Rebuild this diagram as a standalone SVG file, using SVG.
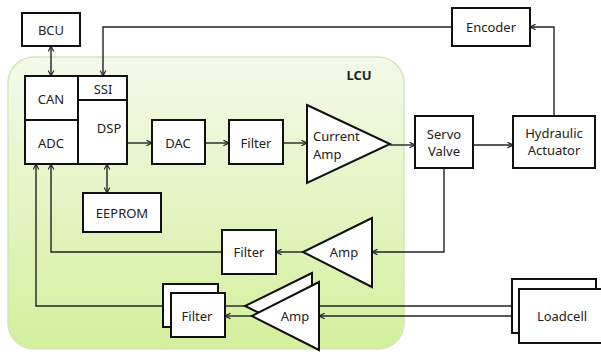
<svg xmlns="http://www.w3.org/2000/svg" width="601" height="355" viewBox="0 0 601 355">
<defs>
<linearGradient id="lcuG" x1="0" y1="0" x2="0" y2="1">
<stop offset="0" stop-color="#f4f9ea"/>
<stop offset="1" stop-color="#d3f09c"/>
</linearGradient>
<marker id="ah" viewBox="0 0 10 10" refX="9" refY="5" markerWidth="7" markerHeight="7" markerUnits="userSpaceOnUse" orient="auto-start-reverse">
<path d="M1,1 L9,5 L1,9" fill="none" stroke="#222" stroke-width="1.6"/>
</marker>
<style>
.box{fill:#fff;stroke:#111;stroke-width:2}
.tri{fill:#fff;stroke:#111;stroke-width:2;stroke-linejoin:miter}
.ln{fill:none;stroke:#222;stroke-width:1.4}
.arr{fill:none;stroke:#222;stroke-width:1.4;marker-end:url(#ah)}
.dbl{fill:none;stroke:#222;stroke-width:1.4;marker-end:url(#ah);marker-start:url(#ah)}
text{font-family:"Noto Sans","Open Sans","Liberation Sans",sans-serif;font-size:13px;fill:#222;text-anchor:middle;dominant-baseline:central}
</style>
</defs>
<rect width="601" height="355" fill="#fff"/>
<g id="lcu">
<rect x="8" y="57" width="396" height="292" rx="26" fill="url(#lcuG)" stroke="#d5e6b8" stroke-width="1.5"/>
<text x="359" y="75" style="font-weight:bold">LCU</text>
</g>
<g id="connectors">
<path class="dbl" d="M51,46 L51,76"/>
<path class="arr" d="M452,27 L103,27 L103,76"/>
<path class="arr" d="M554,116 L554,27 L530,27"/>
<path class="arr" d="M127,143 L152,143"/>
<path class="arr" d="M205,143 L229,143"/>
<path class="arr" d="M283,143 L307,143"/>
<path class="arr" d="M390,145 L415,145"/>
<path class="arr" d="M473,145 L513,145"/>
<path class="dbl" d="M107,164 L107,193"/>
<path class="arr" d="M444,168 L444,252 L372,252"/>
<path class="arr" d="M303,252 L276,252"/>
<path class="arr" d="M222,252 L51,252 L51,164"/>
<path class="arr" d="M163,306 L36,306 L36,164"/>
<path class="ln" d="M245,306 L218,306"/>
<path class="arr" d="M252,316 L225,316"/>
<path class="ln" d="M512,306 L312,306"/>
<path class="arr" d="M519,316 L319,316"/>
</g>
<g id="bcu"><rect class="box" x="22" y="13" width="58" height="33"/><text x="51" y="30">BCU</text></g>
<g id="can"><rect class="box" x="25" y="76" width="53" height="44"/><text x="51" y="99">CAN</text></g>
<g id="adc"><rect class="box" x="25" y="120" width="53" height="44"/><text x="51" y="143">ADC</text></g>
<g id="ssi"><rect class="box" x="78" y="76" width="49" height="24"/><text x="103" y="89">SSI</text></g>
<g id="dsp"><rect class="box" x="78" y="100" width="49" height="64"/><text x="109" y="128">DSP</text></g>
<g id="dac"><rect class="box" x="152" y="120" width="53" height="44"/><text x="178" y="143">DAC</text></g>
<g id="filter1"><rect class="box" x="229" y="120" width="54" height="44"/><text x="256" y="143">Filter</text></g>
<g id="currentamp"><polygon class="tri" points="307,105 390,144 307,183"/><text x="313" y="136" style="text-anchor:start">Current</text><text x="313" y="154" style="text-anchor:start">Amp</text></g>
<g id="eeprom"><rect class="box" x="83" y="193" width="78" height="39"/><text x="122" y="213">EEPROM</text></g>
<g id="servo"><rect class="box" x="415" y="116" width="58" height="52"/><text x="444" y="134">Servo</text><text x="444" y="151">Valve</text></g>
<g id="hydraulic"><rect class="box" x="513" y="116" width="82" height="52"/><text x="554" y="133">Hydraulic</text><text x="554" y="150">Actuator</text></g>
<g id="encoder"><rect class="box" x="452" y="8" width="78" height="38"/><text x="491" y="27">Encoder</text></g>
<g id="amp2"><polygon class="tri" points="372,218 303,252 372,287"/><text x="344" y="252">Amp</text></g>
<g id="filter2"><rect class="box" x="222" y="230" width="54" height="44"/><text x="249" y="252">Filter</text></g>
<g id="filter3"><rect class="box" x="163" y="284" width="55" height="43"/><rect class="box" x="171" y="293" width="54" height="44"/><text x="197" y="316">Filter</text></g>
<g id="amp3"><polygon class="tri" points="312,273 245,306 312,339"/><polygon class="tri" points="319,282 252,316 319,350"/><text x="295" y="316">Amp</text></g>
<g id="loadcell"><rect class="box" x="512" y="279" width="84" height="54"/><rect class="box" x="519" y="289" width="90" height="54"/><text x="562" y="316">Loadcell</text></g>
</svg>
